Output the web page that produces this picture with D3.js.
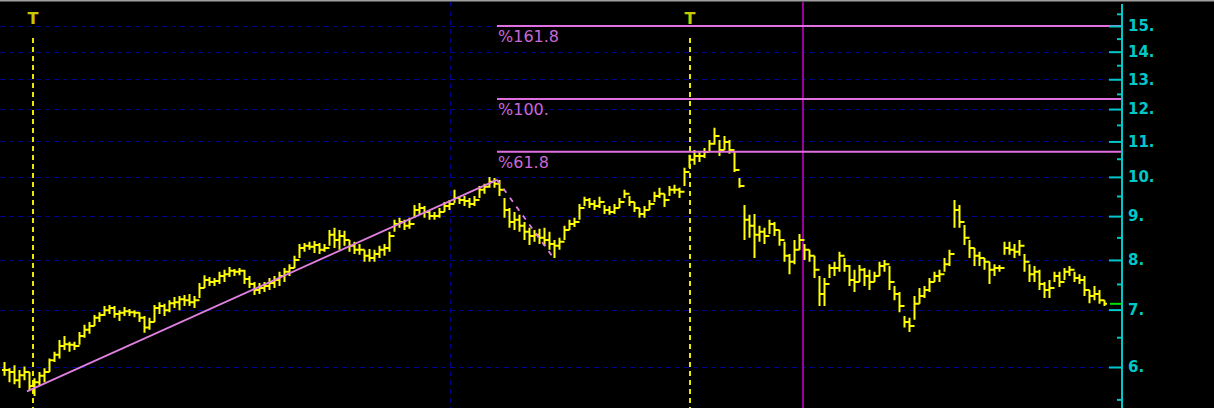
<!DOCTYPE html>
<html>
<head>
<meta charset="utf-8">
<script src="https://cdn.jsdelivr.net/npm/d3@7"></script>
<style>
  body { margin: 0; background: #000; }
  svg { display: block; }
</style>
</head>
<body>
<svg width="1214" height="408"></svg>
<script>
// price bars (high / low / close), one per period
var hi = [6.08,5.98,6.03,5.95,6.01,5.92,5.82,5.92,5.98,6.14,
  6.25,6.45,6.52,6.42,6.42,6.59,6.72,6.77,6.90,6.95,
  7.07,7.09,7.07,6.99,7.05,7.01,6.99,6.95,6.88,6.85,
  7.09,7.14,7.11,7.18,7.24,7.26,7.28,7.30,7.26,7.52,
  7.68,7.64,7.62,7.75,7.79,7.85,7.81,7.83,7.79,7.66,
  7.54,7.52,7.54,7.62,7.66,7.75,7.83,7.91,8.09,8.35,
  8.37,8.40,8.42,8.37,8.35,8.67,8.72,8.67,8.65,8.44,
  8.40,8.35,8.22,8.24,8.22,8.31,8.35,8.63,8.91,8.96,
  8.91,8.96,9.27,9.32,9.25,9.15,9.10,9.20,9.35,9.40,
  9.66,9.50,9.50,9.45,9.50,9.76,9.82,10.00,9.97,9.92,
  9.45,9.20,9.10,9.03,8.86,8.72,8.67,8.70,8.72,8.63,
  8.44,8.49,8.77,8.91,8.96,9.30,9.48,9.45,9.40,9.48,
  9.27,9.25,9.30,9.45,9.66,9.50,9.35,9.20,9.25,9.40,
  9.61,9.71,9.56,9.76,9.79,9.71,10.25,10.61,10.75,10.69,
  10.81,11.04,11.41,11.04,11.16,11.04,10.69,9.97,9.27,9.03,
  9.05,8.77,8.72,8.91,8.86,8.67,8.40,8.13,8.44,8.58,
  8.35,8.22,8.09,7.66,7.62,7.91,7.96,8.18,8.04,7.89,
  7.79,7.89,7.83,7.79,7.75,7.96,8.00,7.87,7.46,7.34,
  6.88,6.85,7.26,7.42,7.46,7.62,7.75,7.79,8.04,8.22,
  9.40,9.27,8.79,8.44,8.26,8.18,8.04,7.96,7.91,7.89,
  8.40,8.40,8.35,8.44,8.13,7.91,7.87,7.79,7.54,7.58,
  7.75,7.75,7.83,7.87,7.75,7.70,7.66,7.38,7.46,7.38,
  7.18];
var lo = [5.86,5.76,5.73,5.67,5.79,5.64,5.55,5.70,5.76,5.92,
  6.08,6.14,6.28,6.25,6.28,6.37,6.49,6.56,6.70,6.77,
  6.88,6.92,6.85,6.79,6.88,6.88,6.86,6.77,6.58,6.63,
  6.77,6.92,6.88,6.95,7.03,6.99,7.07,7.07,7.03,7.22,
  7.42,7.46,7.46,7.50,7.54,7.64,7.66,7.68,7.50,7.42,
  7.28,7.30,7.34,7.38,7.42,7.46,7.54,7.66,7.83,8.04,
  8.18,8.22,8.15,8.13,8.18,8.31,8.26,8.22,8.31,8.18,
  8.13,8.11,7.96,7.96,7.96,8.04,8.09,8.18,8.63,8.72,
  8.67,8.70,8.96,9.05,8.96,8.91,8.91,8.96,9.10,9.15,
  9.32,9.30,9.25,9.20,9.25,9.45,9.56,9.71,9.71,9.50,
  8.96,8.72,8.67,8.63,8.44,8.33,8.40,8.35,8.31,8.22,
  8.04,8.22,8.44,8.67,8.74,8.91,9.25,9.20,9.15,9.20,
  9.05,9.03,9.05,9.20,9.45,9.25,9.10,8.96,8.96,9.15,
  9.35,9.45,9.22,9.50,9.56,9.45,9.76,10.25,10.33,10.41,
  10.52,10.69,10.90,10.58,10.75,10.64,10.13,9.71,8.44,8.49,
  8.04,8.40,8.35,8.58,8.53,8.31,7.96,7.70,7.91,8.22,
  8.00,7.96,7.62,7.07,7.07,7.62,7.66,7.75,7.75,7.46,
  7.34,7.54,7.46,7.38,7.54,7.66,7.75,7.38,7.18,6.95,
  6.67,6.59,6.81,7.11,7.22,7.34,7.54,7.54,7.75,7.87,
  8.72,8.72,8.33,8.04,7.87,7.87,7.79,7.50,7.66,7.75,
  8.11,8.11,8.04,8.09,7.75,7.54,7.54,7.38,7.22,7.22,
  7.54,7.44,7.58,7.66,7.54,7.50,7.26,7.12,7.18,7.11,
  7.07];
var cl = [5.95,5.92,5.79,5.87,5.92,5.70,5.76,5.86,5.92,6.11,
  6.20,6.35,6.38,6.37,6.35,6.52,6.63,6.70,6.85,6.90,
  6.99,7.03,6.92,6.94,6.97,6.95,6.94,6.85,6.67,6.77,
  7.03,7.07,6.99,7.12,7.14,7.20,7.18,7.14,7.18,7.42,
  7.58,7.54,7.56,7.66,7.70,7.77,7.75,7.77,7.60,7.50,
  7.38,7.42,7.46,7.52,7.58,7.66,7.75,7.83,8.00,8.26,
  8.31,8.29,8.33,8.22,8.26,8.56,8.44,8.53,8.44,8.31,
  8.22,8.22,8.09,8.04,8.13,8.22,8.26,8.53,8.81,8.86,
  8.77,8.81,9.15,9.20,9.10,9.00,9.00,9.10,9.25,9.30,
  9.45,9.40,9.37,9.30,9.40,9.66,9.74,9.87,9.82,9.66,
  9.15,8.86,8.91,8.77,8.63,8.53,8.56,8.49,8.44,8.35,
  8.31,8.40,8.67,8.81,8.86,9.20,9.40,9.30,9.25,9.35,
  9.15,9.10,9.20,9.35,9.56,9.35,9.20,9.05,9.15,9.30,
  9.50,9.56,9.40,9.66,9.66,9.61,10.13,10.47,10.58,10.58,
  10.69,10.93,11.16,10.75,10.98,10.75,10.19,9.76,8.91,8.77,
  8.56,8.63,8.53,8.81,8.67,8.44,8.09,7.96,8.22,8.44,
  8.22,8.09,7.79,7.30,7.50,7.83,7.83,8.09,7.87,7.58,
  7.54,7.79,7.66,7.54,7.66,7.87,7.91,7.54,7.30,7.07,
  6.77,6.70,7.11,7.26,7.38,7.54,7.66,7.70,7.91,8.13,
  9.15,8.86,8.49,8.26,8.09,8.04,7.96,7.79,7.83,7.83,
  8.26,8.22,8.18,8.31,7.96,7.70,7.75,7.50,7.38,7.42,
  7.66,7.54,7.75,7.79,7.62,7.58,7.38,7.26,7.30,7.18,
  7.11];

// right axis ticks
var majorTicks = [6, 7, 8, 9, 10, 11, 12, 13, 14, 15];
var minorTicks = [5.5, 6.5, 7.5, 8.5, 9.5, 10.5, 11.5, 12.5, 13.5, 14.5, 15.5];

// fibonacci levels (value, label) and their start bar
var fibValues = [15.0, 12.33, 10.70];
var fibLabels = ["%161.8", "%100.", "%61.8"];
var fibStart = 98.6;

// trend line and its dashed continuation (bar index, value)
var trendLine = [[4.6, 5.62], [98.6, 9.92]];
var trendDash = [[98.6, 9.92], [110.2, 8.0]];

// vertical markers (bar index)
var tMarks = [5.8, 137.2];
var gridX = [89.2];
var cycleMark = [159.8];

var svg = d3.select("svg"),
    width = +svg.attr("width"),
    height = +svg.attr("height"),
    axisX = 1122;

svg.append("rect").attr("width", width).attr("height", height).attr("fill", "#000");
svg.append("line").attr("x1", 0).attr("x2", width).attr("y1", 0.5).attr("y2", 0.5)
    .attr("stroke", "#a0a0a0").attr("stroke-width", 2);

var x = d3.scaleLinear().domain([0, cl.length - 1]).range([4, 1104]);
var y = d3.scaleLog().domain([6, 15]).range([367, 26]);

// grid
var g = svg.append("g");
g.selectAll(".hgrid")
    .data(majorTicks)
    .enter().append("line")
    .attr("x1", 0).attr("x2", axisX)
    .attr("y1", function(d) { return Math.round(y(d)) + 0.5; })
    .attr("y2", function(d) { return Math.round(y(d)) + 0.5; })
    .attr("stroke", "#00008c")
    .attr("stroke-dasharray", "5,4");

g.selectAll(".vgrid")
    .data(gridX)
    .enter().append("line")
    .attr("x1", function(d) { return Math.round(x(d)) + 0.5; })
    .attr("x2", function(d) { return Math.round(x(d)) + 0.5; })
    .attr("y1", 2).attr("y2", height)
    .attr("stroke", "#00008c")
    .attr("stroke-dasharray", "5,4");

// purple cycle line
g.selectAll(".cycle")
    .data(cycleMark)
    .enter().append("line")
    .attr("x1", function(d) { return Math.round(x(d)); })
    .attr("x2", function(d) { return Math.round(x(d)); })
    .attr("y1", 2).attr("y2", height)
    .attr("stroke", "#9a009a")
    .attr("stroke-width", 2);

// T markers
var tm = g.selectAll(".tmark")
    .data(tMarks)
    .enter().append("g");
tm.append("line")
    .attr("x1", function(d) { return Math.round(x(d)); })
    .attr("x2", function(d) { return Math.round(x(d)); })
    .attr("y1", 38).attr("y2", height)
    .attr("stroke", "#e8e800")
    .attr("stroke-width", 2)
    .attr("stroke-dasharray", "5,4");
tm.append("text")
    .attr("x", function(d) { return x(d); })
    .attr("y", 24)
    .attr("text-anchor", "middle")
    .style("font", "bold 16px 'DejaVu Sans', sans-serif")
    .attr("fill", "#c8c800")
    .text("T");

// price bars
var bars = g.append("path")
    .attr("fill", "none")
    .attr("stroke", "#ffff00")
    .attr("stroke-width", 2)
    .attr("d", cl.map(function(c, i) {
        var xi = Math.round(x(i)) + 0.5,
            op = i > 0 ? cl[i - 1] : c;
        return "M" + xi + "," + y(hi[i]) + "V" + y(lo[i]) +
            "M" + (xi - 2.5) + "," + y(op) + "H" + xi +
            "M" + xi + "," + y(c) + "H" + (xi + 2.5);
    }).join(""));

// trend lines
var line = d3.line()
    .x(function(d) { return x(d[0]); })
    .y(function(d) { return y(d[1]); });
g.append("path").datum(trendLine)
    .attr("d", line)
    .attr("fill", "none")
    .attr("stroke", "#e080e0")
    .attr("stroke-width", 1.8);
g.append("path").datum(trendDash)
    .attr("d", line)
    .attr("fill", "none")
    .attr("stroke", "#e080e0")
    .attr("stroke-width", 1.8)
    .attr("stroke-dasharray", "5,6");

// fibonacci lines
var fib = g.selectAll(".fib")
    .data(fibValues)
    .enter().append("g");
fib.append("line")
    .attr("x1", x(fibStart)).attr("x2", axisX)
    .attr("y1", function(d) { return y(d); })
    .attr("y2", function(d) { return y(d); })
    .attr("stroke", "#e070e0")
    .attr("stroke-width", 2);
fib.append("text")
    .attr("x", x(fibStart) + 1)
    .attr("y", function(d) { return y(d) + 16; })
    .style("font", "16px 'DejaVu Sans', sans-serif")
    .attr("fill", "#c868d8")
    .text(function(d, i) { return fibLabels[i]; });

// last price marker
svg.append("line")
    .attr("x1", 1110).attr("x2", axisX)
    .attr("y1", y(cl[cl.length - 1])).attr("y2", y(cl[cl.length - 1]))
    .attr("stroke", "#00e000")
    .attr("stroke-width", 2);

// right axis
var yAxis = svg.append("g")
    .attr("transform", "translate(" + axisX + ",0)")
    .call(d3.axisRight(y)
        .tickValues(majorTicks)
        .tickSizeInner(-13)
        .tickSizeOuter(0)
        .tickPadding(6)
        .tickFormat(function(d) { return d + "."; }));
yAxis.select(".domain").remove();
yAxis.selectAll("line").attr("stroke", "#00c8c8").attr("stroke-width", 2);
yAxis.selectAll("text")
    .attr("fill", "#00c8c8")
    .style("font", "bold 15px 'DejaVu Sans', sans-serif");

var minor = svg.append("g")
    .attr("transform", "translate(" + axisX + ",0)")
    .call(d3.axisRight(y)
        .tickValues(minorTicks)
        .tickSizeInner(-5)
        .tickSizeOuter(0)
        .tickFormat(""));
minor.select(".domain").remove();
minor.selectAll("line").attr("stroke", "#00c8c8").attr("stroke-width", 2);

svg.append("line")
    .attr("x1", axisX).attr("x2", axisX)
    .attr("y1", 4).attr("y2", height)
    .attr("stroke", "#00c8c8")
    .attr("stroke-width", 2);
</script>
</body>
</html>
